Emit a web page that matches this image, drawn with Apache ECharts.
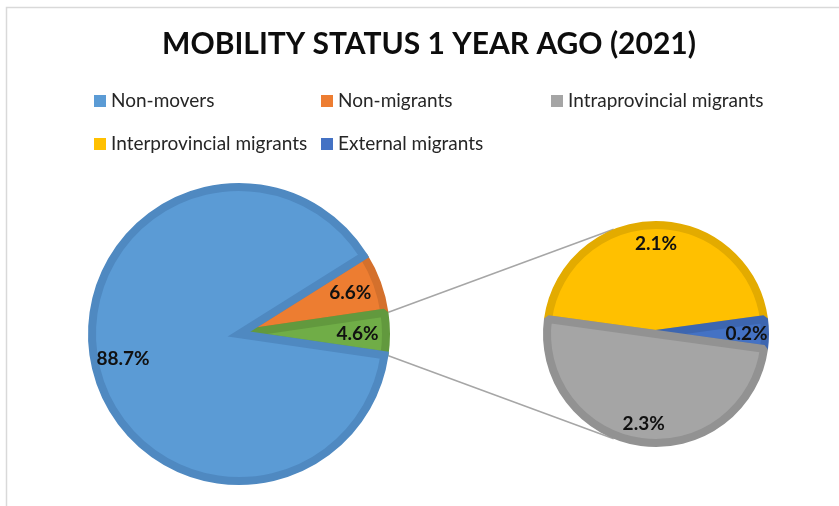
<!DOCTYPE html>
<html>
<head>
<meta charset="utf-8">
<title>Mobility status 1 year ago (2021)</title>
<script src="https://cdn.jsdelivr.net/npm/echarts@6/dist/echarts.min.js"></script>
<style>
  html, body { margin: 0; padding: 0; background: #ffffff; }
  #chart { width: 839px; height: 506px; }
</style>
</head>
<body>
<div id="chart"></div>
<script>
// Population by mobility status one year earlier (percent)
const primaryNames = ['Non-movers', 'Non-migrants', 'Migrants'];
const primaryValues = [88.7, 6.6, 4.6];

// Breakdown of the migrants slice
const migrantNames = ['Interprovincial migrants', 'External migrants', 'Intraprovincial migrants'];
const migrantValues = [2.1, 0.2, 2.3];

const titleText = 'MOBILITY STATUS 1 YEAR AGO (2021)';

// Legend columns
const legendColumns = [
  ['Non-movers', 'Interprovincial migrants'],
  ['Non-migrants', 'External migrants'],
  ['Intraprovincial migrants']
];

// Fill / border colours per category
const fills = {
  'Non-movers': '#5B9BD5',
  'Non-migrants': '#ED7D31',
  'Migrants': '#70AD47',
  'Interprovincial migrants': '#FFC000',
  'External migrants': '#4472C4',
  'Intraprovincial migrants': '#A5A5A5'
};
const borders = {
  'Non-movers': '#4F89C1',
  'Non-migrants': '#D4702C',
  'Migrants': '#62993E',
  'Interprovincial migrants': '#E3AB00',
  'External migrants': '#3D66B0',
  'Intraprovincial migrants': '#929292'
};

// Layout of the two pies (pixels)
const FONT = 'Lato';
const BAND = 8;
const mainPie = { cx: 239, cy: 334, r: 151 };
const subPie = { cx: 656, cy: 334, r: 113 };
const connectorAngle = 112;

const sum = a => a.reduce((s, v) => s + v, 0);
const primaryTotal = sum(primaryValues);
const migrantTotal = sum(migrantValues);

// The migrants slice is centred on the horizontal axis, pointing at the breakdown pie
const mainStart = (primaryValues[1] + primaryValues[2] / 2) / primaryTotal * 360;
const subStart = (migrantValues[0] + migrantValues[1] / 2) / migrantTotal * 360;

// Draw order: small slices first, the large one on top
const mainOrder = [1, 2, 0];
const mainData = mainOrder.map(i => ({
  name: primaryNames[i],
  value: primaryValues[i],
  itemStyle: {
    color: fills[primaryNames[i]],
    borderColor: borders[primaryNames[i]],
    borderJoin: i === 0 ? 'miter' : 'bevel'
  }
}));
const subData = migrantNames.map((n, i) => ({
  name: n,
  value: migrantValues[i],
  itemStyle: { color: fills[n], borderColor: borders[n], borderJoin: 'bevel' }
}));

const labelStyle = {
  show: true,
  position: 'inside',
  formatter: p => p.value.toFixed(1) + '%',
  fontFamily: FONT,
  fontWeight: 'bold',
  fontSize: 19,
  color: '#111111'
};

function pieSeries(pie, data, start) {
  return {
    type: 'pie',
    center: [pie.cx, pie.cy],
    radius: pie.r - BAND / 2,
    startAngle: start,
    clockwise: true,
    data: data,
    label: { show: false },
    labelLine: { show: false },
    itemStyle: { borderWidth: BAND, borderMiterLimit: 10 },
    emphasis: { disabled: true },
    z: 2
  };
}

// Transparent ring carrying the value labels further out along each slice
function labelSeries(pie, data, start, inner) {
  return {
    type: 'pie',
    center: [pie.cx, pie.cy],
    radius: [inner, pie.r],
    startAngle: start,
    clockwise: true,
    silent: true,
    data: data.map(d => ({ name: d.name, value: d.value })),
    itemStyle: { color: 'rgba(0,0,0,0)', borderWidth: 0 },
    label: labelStyle,
    labelLine: { show: false },
    emphasis: { disabled: true },
    z: 3
  };
}

// Connector lines from the migrants slice edges to the breakdown pie
const rad = d => d * Math.PI / 180;
const edgeTop = mainStart - primaryValues[1] / primaryTotal * 360;
const edgeBottom = edgeTop - primaryValues[2] / primaryTotal * 360;
const pt = (pie, deg) => [pie.cx + pie.r * Math.cos(rad(deg)), pie.cy - pie.r * Math.sin(rad(deg))];
const c1a = pt(mainPie, edgeTop), c1b = pt(subPie, connectorAngle);
const c2a = pt(mainPie, edgeBottom), c2b = pt(subPie, -connectorAngle);

const chart = echarts.init(document.getElementById('chart'), null, { renderer: 'canvas' });
chart.setOption({
  animation: false,
  backgroundColor: '#ffffff',
  title: {
    text: titleText,
    left: 429,
    top: 29,
    padding: 0,
    textAlign: 'center',
    textStyle: { fontFamily: FONT, fontWeight: 'bold', fontSize: 30, color: '#0d0d0d' }
  },
  legend: legendColumns.map((col, k) => ({
    data: col,
    orient: 'vertical',
    left: [94, 321, 551][k],
    top: 91,
    padding: 0,
    itemGap: 23,
    icon: 'rect',
    itemWidth: 12,
    itemHeight: 12,
    itemStyle: { borderWidth: 0 },
    selectedMode: false,
    textStyle: { fontFamily: FONT, fontSize: 19, color: '#262626', lineHeight: 20 }
  })),
  graphic: [
    {
      type: 'rect', silent: true, z: -1,
      shape: { x: 6.5, y: 7.5, width: 1000, height: 1000 },
      style: { fill: 'none', stroke: '#D9D9D9', lineWidth: 1.5 }
    },
    {
      type: 'line', silent: true, z: 1,
      shape: { x1: c1a[0], y1: c1a[1], x2: c1b[0], y2: c1b[1] },
      style: { stroke: '#A6A6A6', lineWidth: 1.5 }
    },
    {
      type: 'line', silent: true, z: 1,
      shape: { x1: c2a[0], y1: c2a[1], x2: c2b[0], y2: c2b[1] },
      style: { stroke: '#A6A6A6', lineWidth: 1.5 }
    }
  ],
  series: [
    pieSeries(mainPie, mainData, mainStart),
    pieSeries(subPie, subData, subStart),
    labelSeries(mainPie, mainData, mainStart, 80),
    labelSeries(subPie, subData, subStart, 62)
  ]
});
</script>
</body>
</html>
